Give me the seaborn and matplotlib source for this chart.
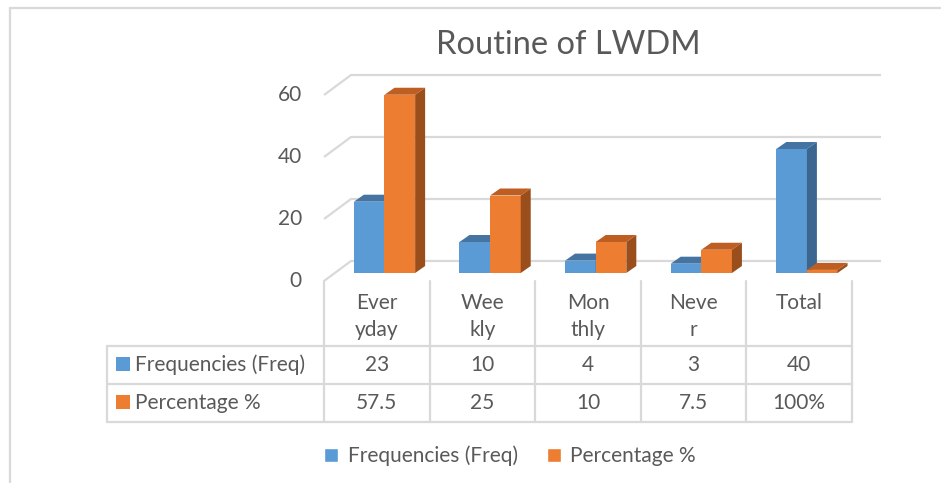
import pandas as pd
import matplotlib.pyplot as plt
import seaborn as sns
from matplotlib.patches import Polygon, Patch

# Chart data
categories = ["Everyday", "Weekly", "Monthly", "Never", "Total"]
tick_labels = ["Ever\nyday", "Wee\nkly", "Mon\nthly", "Neve\nr", "Total"]
series_names = ["Frequencies (Freq)", "Percentage %"]
freq = [23, 10, 4, 3, 40]
pct = [57.5, 25, 10, 7.5, 1]
freq_labels = ["23", "10", "4", "3", "40"]
pct_labels = ["57.5", "25", "10", "7.5", "100%"]
grid_values = [0, 20, 40, 60]

GREY = "#595959"
LINE = "#D9D9D9"
BLUE = ["#5B9BD5", "#4574A3", "#3A6690"]     # front, top, side
ORANGE = ["#ED7D31", "#BE5E22", "#9A4E1C"]
FS = 15

sns.set_style("white")
plt.rcParams["font.family"] = ["Lato", "DejaVu Sans"]

fig = plt.figure(figsize=(9.41, 4.83), dpi=100)
ax = fig.add_axes([0, 0, 1, 1])


# pixel position -> data units of the main axes
def X(px):
    return (px - 384.5) / 105.6


def Y(py):
    return (273 - py) / 3.1


df = pd.DataFrame({
    "category": categories * 2,
    "series": [series_names[0]] * 5 + [series_names[1]] * 5,
    "value": freq + pct,
})

sns.barplot(
    data=df, x="category", y="value", hue="series",
    hue_order=series_names, order=categories,
    palette=[BLUE[0], ORANGE[0]], saturation=1, width=0.58,
    errorbar=None, legend=False, linewidth=0, ax=ax
)

ax.set_xlim(X(0), X(941))
ax.set_ylim(Y(483), Y(0))
ax.axis("off")

# back wall gridlines with the floor diagonal
for v in grid_values:
    ax.plot([X(324), X(351), X(881)],
            [v + Y(281), v + Y(261), v + Y(261)],
            color=LINE, lw=1.6, zorder=1, solid_capstyle="butt")
    ax.text(X(302), v + Y(281), str(v), ha="right", va="center",
            fontsize=FS, color=GREY)

# 3D faces of the bars
ddx = 10 / 105.6
ddy = 7 / 3.1
for k, (cont, cols) in enumerate(zip(ax.containers, [BLUE, ORANGE])):
    for bar in cont:
        x0 = bar.get_x()
        w = bar.get_width()
        h = bar.get_height()
        z = 2 + k * 2
        bar.set_zorder(z)
        top = [(x0, h), (x0 + w, h), (x0 + w + ddx, h + ddy), (x0 + ddx, h + ddy)]
        side = [(x0 + w, 0), (x0 + w + ddx, ddy), (x0 + w + ddx, h + ddy), (x0 + w, h)]
        ax.add_patch(Polygon(top, closed=True, facecolor=cols[1], lw=0, zorder=z))
        ax.add_patch(Polygon(side, closed=True, facecolor=cols[2], lw=0, zorder=z))

# data table under the axis
col_edges = [X(324) + i for i in range(6)]
for xe in col_edges:
    ax.plot([xe, xe], [Y(281), Y(422)], color=LINE, lw=1.6, zorder=1)
ax.plot([X(107), X(107)], [Y(346), Y(422)], color=LINE, lw=1.6, zorder=1)
for yl in [346, 384, 422]:
    ax.plot([X(107), col_edges[-1]], [Y(yl), Y(yl)], color=LINE, lw=1.6, zorder=1)

for i, lab in enumerate(tick_labels):
    cx = col_edges[i] + 0.5
    for j, part in enumerate(lab.split("\n")):
        ax.text(cx, Y(303 + 27 * j), part, ha="center", va="center",
                fontsize=FS, color=GREY)
    ax.text(cx, Y(365), freq_labels[i], ha="center", va="center",
            fontsize=FS, color=GREY)
    ax.text(cx, Y(403), pct_labels[i], ha="center", va="center",
            fontsize=FS, color=GREY)

for name, col, yc in [(series_names[0], BLUE[0], 364), (series_names[1], ORANGE[0], 402)]:
    ax.add_patch(plt.Rectangle((X(116), Y(yc + 7)), X(130) - X(116),
                               Y(yc - 7) - Y(yc + 7), facecolor=col, lw=0))
    ax.text(X(135), Y(yc + 1), name, ha="left", va="center",
            fontsize=FS, color=GREY)

# title
fig.text(568 / 941, 1 - 45 / 483, "Routine of LWDM", ha="center", va="center",
         fontsize=23.5, color=GREY)

# legend
handles = [Patch(facecolor=BLUE[0]), Patch(facecolor=ORANGE[0])]
leg = fig.legend(handles, series_names, loc="center",
                 bbox_to_anchor=(510 / 941, 1 - 456 / 483), ncol=2,
                 frameon=False, fontsize=FS, handlelength=0.68,
                 handleheight=0.68, handletextpad=0.45, columnspacing=1.4)
for t in leg.get_texts():
    t.set_color(GREY)

# chart border
fig.add_artist(plt.Line2D([10 / 941, 10 / 941], [0, 1 - 8 / 483],
                          color=LINE, lw=1.6, transform=fig.transFigure))
fig.add_artist(plt.Line2D([10 / 941, 1], [1 - 8 / 483, 1 - 8 / 483],
                          color=LINE, lw=1.6, transform=fig.transFigure))

fig.savefig("out.png", dpi=100, facecolor="white")
